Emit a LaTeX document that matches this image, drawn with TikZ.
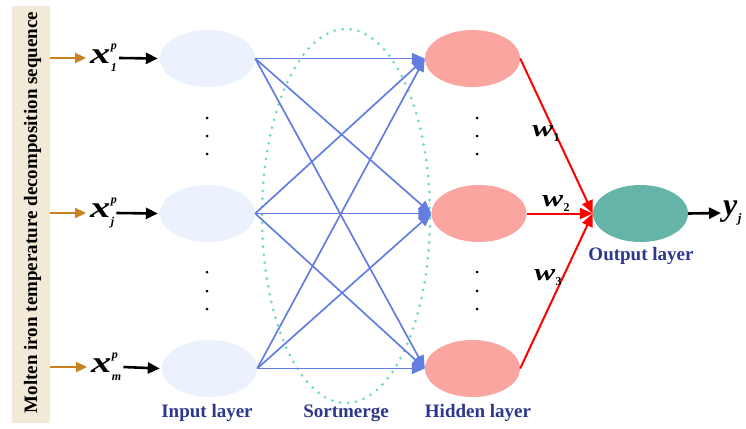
\documentclass[tikz,border=0pt]{standalone}
\usepackage{fontspec}
\setmainfont{Liberation Serif}
\usetikzlibrary{arrows.meta,shapes.geometric}
\definecolor{beige}{RGB}{242,234,214}
\definecolor{inpfill}{RGB}{235,242,253}
\definecolor{hidfill}{RGB}{250,165,160}
\definecolor{outfill}{RGB}{100,180,168}
\definecolor{bluelink}{RGB}{100,125,225}
\definecolor{dotcol}{RGB}{110,215,195}
\definecolor{orangearr}{RGB}{200,130,30}
\definecolor{labblue}{RGB}{45,55,140}
\newcommand{\varlab}[3]{\scalebox{1.35}[1]{\fontsize{30}{30}\selectfont\bfseries\itshape #1}\kern0.5pt\makebox[0pt][l]{\raisebox{14pt}{\fontsize{12}{12}\selectfont\bfseries\itshape #2}}\raisebox{-8pt}{\fontsize{12}{12}\selectfont\bfseries\itshape #3}}
\newcommand{\wlab}[1]{\scalebox{1.3}[1]{\fontsize{24}{24}\selectfont\bfseries\itshape w}\kern0.5pt\raisebox{-5pt}{\fontsize{12}{12}\selectfont\bfseries #1}}
\tikzset{
  inell/.style={ellipse, fill=inpfill, minimum width=95pt, minimum height=57pt, inner sep=0pt},
  hidell/.style={ellipse, fill=hidfill, minimum width=95pt, minimum height=57pt, inner sep=0pt},
  outell/.style={ellipse, fill=outfill, minimum width=95pt, minimum height=57pt, inner sep=0pt},
  orarr/.style={draw=orangearr, line width=2.3pt, -{Triangle[length=11pt,width=10pt]}},
  blkarr/.style={draw=black, line width=2.6pt, -{Triangle[length=12pt,width=11pt]}},
  bluearr/.style={draw=bluelink, line width=1.7pt, -{Triangle[length=13pt,width=11pt]}},
  redarr/.style={draw=red, line width=2pt, -{Triangle[length=13pt,width=11pt]}},
  layerlab/.style={text=labblue, font=\fontsize{19}{19}\selectfont\bfseries},
  vdots/.style={fill=black, circle, inner sep=0pt, minimum size=3pt},
  varnode/.style={inner sep=0pt, anchor=west},
}
\begin{document}
\begin{tikzpicture}[x=1pt,y=-1pt]
\useasboundingbox (0,0) rectangle (746,428);
% left box
\node[fill=beige, minimum width=38pt, minimum height=417pt, inner sep=0pt] (box) at (31,214.5) {};
\node[rotate=90, font=\fontsize{19}{19}\selectfont\bfseries] (boxtxt) at (32.5,212.5) {Molten iron temperature decomposition sequence};
% sortmerge dotted ellipse
\node[ellipse, draw=dotcol, line width=3pt, dash pattern=on 0pt off 8pt, line cap=round, minimum width=168pt, minimum height=374pt, inner sep=0pt] (sort) at (346,216) {};
% input nodes
\node[inell] (i1) at (207.5,58.5) {};
\node[inell] (i2) at (207.5,213.5) {};
\node[inell] (i3) at (209.5,368.5) {};
% hidden nodes
\node[hidell] (h1) at (472.5,58.5) {};
\node[hidell] (h2) at (479,213.5) {};
\node[hidell] (h3) at (472.5,368.5) {};
% output node
\node[outell] (o) at (640.5,213.5) {};
% variable labels
\node[varnode] (x1) at (90,58) {\varlab{x}{p}{1}};
\node[varnode] (x2) at (90,213) {\varlab{x}{p}{j}};
\node[varnode] (x3) at (91,367) {\varlab{x}{p}{m}};
\node[varnode] (y) at (723,213) {{\fontsize{32}{32}\selectfont\bfseries\itshape y}\kern0.5pt\raisebox{-7pt}{\fontsize{13}{13}\selectfont\bfseries\itshape j}};
% orange arrows
\draw[orarr] (box.east |- x1.west) -- ([xshift=-4pt]x1.west);
\draw[orarr] (box.east |- x2.west) -- ([xshift=-4pt]x2.west);
\draw[orarr] (box.east |- x3.west) -- ([xshift=-4pt]x3.west);
% black arrows
\draw[blkarr] ([xshift=2pt]x1.east) -- ([xshift=-2pt]i1.west);
\draw[blkarr] ([xshift=2pt]x2.east) -- ([xshift=-2pt]i2.west);
\draw[blkarr] ([xshift=2pt]x3.east) -- ([xshift=-2pt]i3.west);
\draw[blkarr] (o.east) -- ([xshift=-2pt]y.west);
% blue links
\foreach \a in {i1,i2,i3}{
  \foreach \b in {h1,h2,h3}{
    \draw[bluearr] (\a.east) -- (\b.west);
  }
}
% red links
\draw[redarr] (h1.east) -- (o.west);
\draw[redarr] (h2.east) -- (o.west);
\draw[redarr] (h3.east) -- (o.west);
% weight labels
\node (w1) at (546,133) {\wlab{1}};
\node (w2) at (556,203) {\wlab{2}};
\node (w3) at (548,278) {\wlab{3}};
% vertical dots
\foreach \yy [count=\k] in {118,136,154,272,291,309}{
  \node[vdots] (di\k) at (207,\yy) {};
  \node[vdots] (dh\k) at (477,\yy) {};
}
% layer labels
\node[layerlab] (li) at (207,413) {Input layer};
\node[layerlab] (ls) at (346,413) {Sortmerge};
\node[layerlab] (lh) at (478,413) {Hidden layer};
\node[layerlab] (lo) at (641,256) {Output layer};
\end{tikzpicture}
\end{document}
